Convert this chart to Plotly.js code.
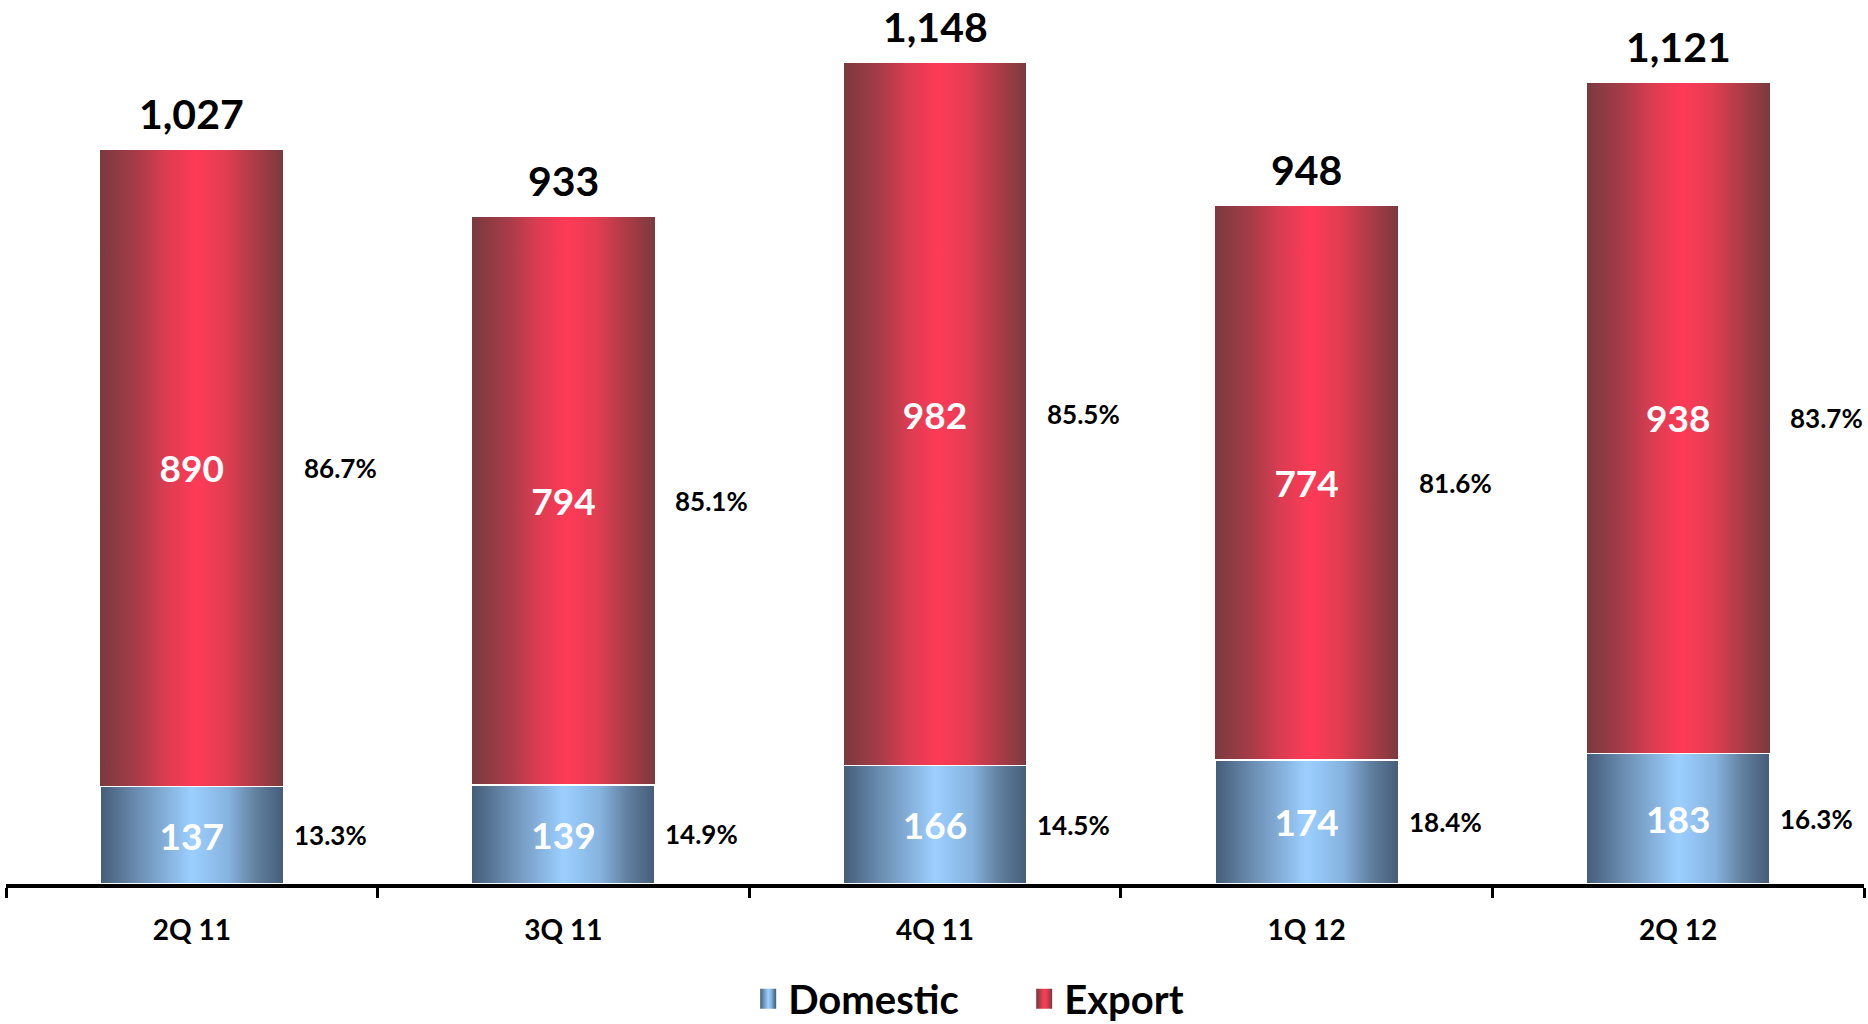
<!DOCTYPE html>
<html>
<head>
<meta charset="utf-8">
<script src="https://cdn.plot.ly/plotly-3.0.1.min.js"></script>
<style>
html,body{margin:0;padding:0;background:#fff;}
#chart{width:1868px;height:1024px;}
</style>
</head>
<body>
<div id="chart"></div>
<script>
var categories = ["2Q 11", "3Q 11", "4Q 11", "1Q 12", "2Q 12"];
var domestic = [137, 139, 166, 174, 183];
var exportVals = [890, 794, 982, 774, 938];
var domesticPct = ["13.3%", "14.9%", "14.5%", "18.4%", "16.3%"];
var exportPct = ["86.7%", "85.1%", "85.5%", "81.6%", "83.7%"];

var FONT = "Lato, 'Open Sans', 'DejaVu Sans', sans-serif";

var totals = domestic.map(function(d, i){ return d + exportVals[i]; });

var traceDom = {
  type: 'bar', name: 'Domestic', x: categories, y: domestic,
  text: domestic.map(String), textposition: 'inside', insidetextanchor: 'middle',
  textangle: 0, constraintext: 'none',
  insidetextfont: {family: FONT, size: 37, color: '#ffffff', weight: 700},
  marker: {color: '#8fb8e0', line: {color: '#ffffff', width: 2}},
  hoverinfo: 'skip'
};
var traceExp = {
  type: 'bar', name: 'Export', x: categories, y: exportVals,
  text: exportVals.map(String), textposition: 'inside', insidetextanchor: 'middle',
  textangle: 0, constraintext: 'none',
  insidetextfont: {family: FONT, size: 37, color: '#ffffff', weight: 700},
  marker: {color: '#e83a50', line: {color: '#ffffff', width: 1}},
  hoverinfo: 'skip'
};

var annotations = [];
categories.forEach(function(c, i){
  annotations.push({
    xref: 'x', yref: 'y', x: c, y: totals[i], text: totals[i].toLocaleString('en-US'),
    showarrow: false, yanchor: 'middle', yshift: 36,
    font: {family: FONT, size: 41, color: '#000', weight: 700}
  });
  annotations.push({
    xref: 'x', yref: 'y', x: c, y: domestic[i] + exportVals[i] / 2, text: exportPct[i],
    showarrow: false, xanchor: 'left', yanchor: 'middle', xshift: 110,
    font: {family: FONT, size: 26, color: '#000', weight: 700}
  });
  annotations.push({
    xref: 'x', yref: 'y', x: c, y: domestic[i] / 2, text: domesticPct[i],
    showarrow: false, xanchor: 'left', yanchor: 'middle', xshift: 100,
    font: {family: FONT, size: 26, color: '#000', weight: 700}
  });
});

var layout = {
  width: 1868, height: 1024,
  margin: {l: 6, r: 4, t: 10, b: 140, autoexpand: false},
  paper_bgcolor: '#ffffff', plot_bgcolor: '#ffffff',
  barmode: 'stack', bargap: 0.505,
  showlegend: true,
  legend: {
    orientation: 'h', x: 0.548, xanchor: 'center', y: -0.094, yanchor: 'top',
    font: {family: FONT, size: 40, color: '#000', weight: 700},
    traceorder: 'normal', entrywidth: 231
  },
  xaxis: {
    type: 'category', range: [-0.5, 4.5],
    showline: true, linecolor: '#000', linewidth: 4,
    ticks: 'outside', tickson: 'boundaries', ticklen: 10, tickwidth: 3, tickcolor: '#000',
    ticklabelstandoff: 18,
    tickfont: {family: FONT, size: 28, color: '#000', weight: 700},
    showgrid: false, zeroline: false, fixedrange: true
  },
  yaxis: {
    visible: false, range: [0, 1222], showgrid: false, zeroline: false, fixedrange: true
  },
  annotations: annotations
};

function addGradients(gd){
  var svg = gd.querySelector('.main-svg');
  var ns = 'http://www.w3.org/2000/svg';
  var defs = svg.querySelector('defs');
  if(!defs){ defs = document.createElementNS(ns, 'defs'); svg.insertBefore(defs, svg.firstChild); }
  function grad(id, stops){
    var g = document.createElementNS(ns, 'linearGradient');
    g.setAttribute('id', id);
    g.setAttribute('x1', '0'); g.setAttribute('y1', '0');
    g.setAttribute('x2', '1'); g.setAttribute('y2', '0');
    stops.forEach(function(s){
      var st = document.createElementNS(ns, 'stop');
      st.setAttribute('offset', s[0]);
      st.setAttribute('stop-color', s[1]);
      g.appendChild(st);
    });
    defs.appendChild(g);
  }
  grad('gradDom', [[0, '#445c78'], [0.2, '#6a8cb0'], [0.5, '#9ccfff'], [0.7, '#86b3df'], [0.85, '#617f9f'], [1, '#445c78']]);
  grad('gradExp', [[0, '#7a3a3e'], [0.2, '#a63c48'], [0.35, '#d83d51'], [0.52, '#ff3a57'], [0.68, '#e33d52'], [0.83, '#b03c48'], [1, '#7a3a3e']]);
  var ids = ['gradDom', 'gradExp'];
  var traces = gd.querySelectorAll('.barlayer .trace');
  traces.forEach(function(t, i){
    t.querySelectorAll('.point path').forEach(function(p){ p.style.fill = 'url(#' + ids[i] + ')'; });
  });
  var legTraces = gd.querySelectorAll('.legend .traces');
  legTraces.forEach(function(t, i){
    t.querySelectorAll('.legendpoints path').forEach(function(p){
      p.setAttribute('d', 'M8,10H-8V-10H8Z');
      p.style.fill = 'url(#' + ids[i] + ')'; p.style.stroke = 'none';
    });
  });
}

Plotly.newPlot('chart', [traceDom, traceExp], layout, {displayModeBar: false, staticPlot: true}).then(function(gd){
  addGradients(gd);
});
</script>
</body>
</html>
